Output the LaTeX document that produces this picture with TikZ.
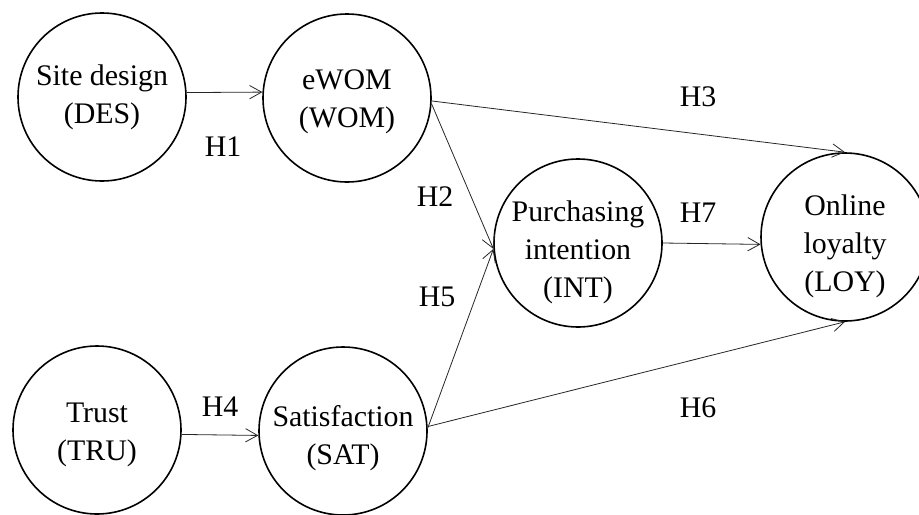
\documentclass[tikz,border=0pt]{standalone}
\usepackage{fontspec}
\setmainfont{Liberation Serif}
\usetikzlibrary{arrows.meta}

\tikzset{
  construct/.style={draw=black, line width=1.2pt, circle, minimum size=126pt,
    inner sep=0pt},
  ctext/.style={align=center, inner sep=0pt, font=\fontsize{22.4}{28.5}\selectfont},
  path/.style={draw=black!85, line width=0.6pt,
    -{Straight Barb[length=9pt,width=10pt,line width=0.6pt]}},
  hyp/.style={font=\fontsize{22.4}{28}\selectfont, inner sep=0pt}
}

\begin{document}
\begin{tikzpicture}[x=7.5pt,y=7.5pt]
\useasboundingbox (0,0) rectangle (91.9,-51.4);
\node [construct, label={[ctext,yshift=-0.5pt]center:Site design\\(DES)}] (des) at (10.2,-9.7) {};
\node [construct, label={[ctext,yshift=-3pt]center:eWOM\\(WOM)}] (wom) at (34.7,-9.8) {};
\node [construct, label={[ctext,yshift=-7pt]center:Purchasing\\intention\\(INT)}] (int) at (57.8,-24.3) {};
\node [construct, label={[ctext,yshift=-7pt]center:Online\\loyalty\\(LOY)}] (loy) at (84.5,-23.7) {};
\node [construct, label={[ctext,yshift=-4pt]center:Trust\\(TRU)}] (tru) at (9.7,-43.0) {};
\node [construct, label={[ctext,yshift=-5pt]center:Satisfaction\\(SAT)}] (sat) at (34.3,-43.1) {};
\draw [path] (des.3.4) -- (wom.176);
\draw [path] (wom.-4.7) -- (int.184);
\draw [path] (wom.-2.7) -- (loy.north);
\draw [path] (tru.-3.4) -- (sat.183);
\draw [path] (sat.2.7) -- (int.184);
\draw [path] (sat.3.4) -- (loy.south);
\draw [path] (int.east) -- (loy.185);
\node [hyp] (h1) at (22.3,-14.7) {H1};
\node [hyp] (h2) at (43.5,-19.7) {H2};
\node [hyp] (h3) at (69.8,-9.7) {H3};
\node [hyp] (h4) at (22.0,-40.7) {H4};
\node [hyp] (h5) at (43.7,-29.7) {H5};
\node [hyp] (h6) at (69.8,-40.8) {H6};
\node [hyp] (h7) at (69.8,-21.3) {H7};
\end{tikzpicture}
\end{document}
